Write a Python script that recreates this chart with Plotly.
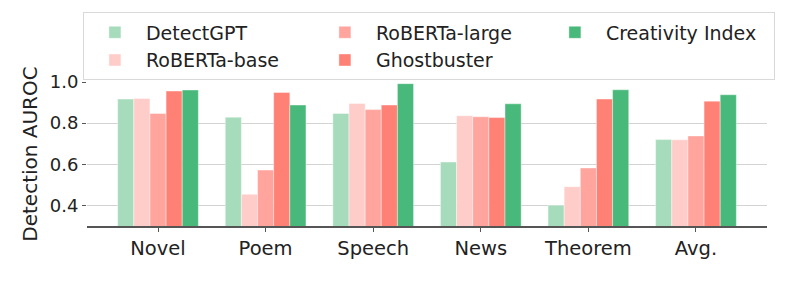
import plotly.graph_objects as go

categories = ["Novel", "Poem", "Speech", "News", "Theorem", "Avg."]
methods = ["DetectGPT", "RoBERTa-base", "RoBERTa-large", "Ghostbuster", "Creativity Index"]
detectgpt = [0.917, 0.829, 0.847, 0.611, 0.401, 0.720]
roberta_base = [0.920, 0.454, 0.896, 0.836, 0.491, 0.719]
roberta_large = [0.847, 0.572, 0.866, 0.831, 0.582, 0.738]
ghostbuster = [0.956, 0.949, 0.888, 0.827, 0.917, 0.907]
creativity = [0.961, 0.888, 0.992, 0.894, 0.962, 0.938]
series = [detectgpt, roberta_base, roberta_large, ghostbuster, creativity]
colors = ["#a6dcbc", "#ffcdc9", "#ffa59e", "#ff8075", "#48b97a"]
legend_rank = [1, 4, 2, 5, 3]

FONT = "DejaVu Sans"
fig = go.Figure()
for name, vals, col, rk in zip(methods, series, colors, legend_rank):
    fig.add_trace(go.Bar(
        x=categories, y=vals, name=name,
        marker=dict(color=col, line=dict(color="rgba(255,255,255,0.5)", width=0.8)),
        legendrank=rk,
    ))

fig.update_layout(
    width=788, height=282,
    margin=dict(l=87, r=21, t=82, b=56),
    barmode="group", bargap=0.25, bargroupgap=0,
    plot_bgcolor="white", paper_bgcolor="white",
    font=dict(family=FONT, size=19, color="#222"),
    legend=dict(
        orientation="h", x=-0.006, y=1.483, xanchor="left", yanchor="top",
        bordercolor="#d9d9d9", borderwidth=1, bgcolor="white",
        font=dict(size=19), entrywidth=163, entrywidthmode="pixels",
        itemwidth=52, traceorder="normal",
    ),
    xaxis=dict(
        range=[-0.66, 5.66], showline=True, linecolor="#555", linewidth=1.5,
        ticks="outside", ticklen=4, tickcolor="#555",
        tickfont=dict(size=19.5, family=FONT, color="#222"),
        showgrid=False,
    ),
    yaxis=dict(
        range=[0.3, 1.0], tickvals=[0.4, 0.6, 0.8, 1.0], ticktext=["0.4", "0.6", "0.8", "1.0"],
        showgrid=True, gridcolor="#d3d3d3", gridwidth=1, layer="above traces",
        ticks="outside", ticklen=4, tickcolor="#555", showline=False, zeroline=False,
        tickfont=dict(size=18, family=FONT, color="#222"),
        title=dict(text="Detection AUROC", font=dict(size=20, family=FONT, color="#222"), standoff=6),
    ),
)
fig.write_html("out.html")
